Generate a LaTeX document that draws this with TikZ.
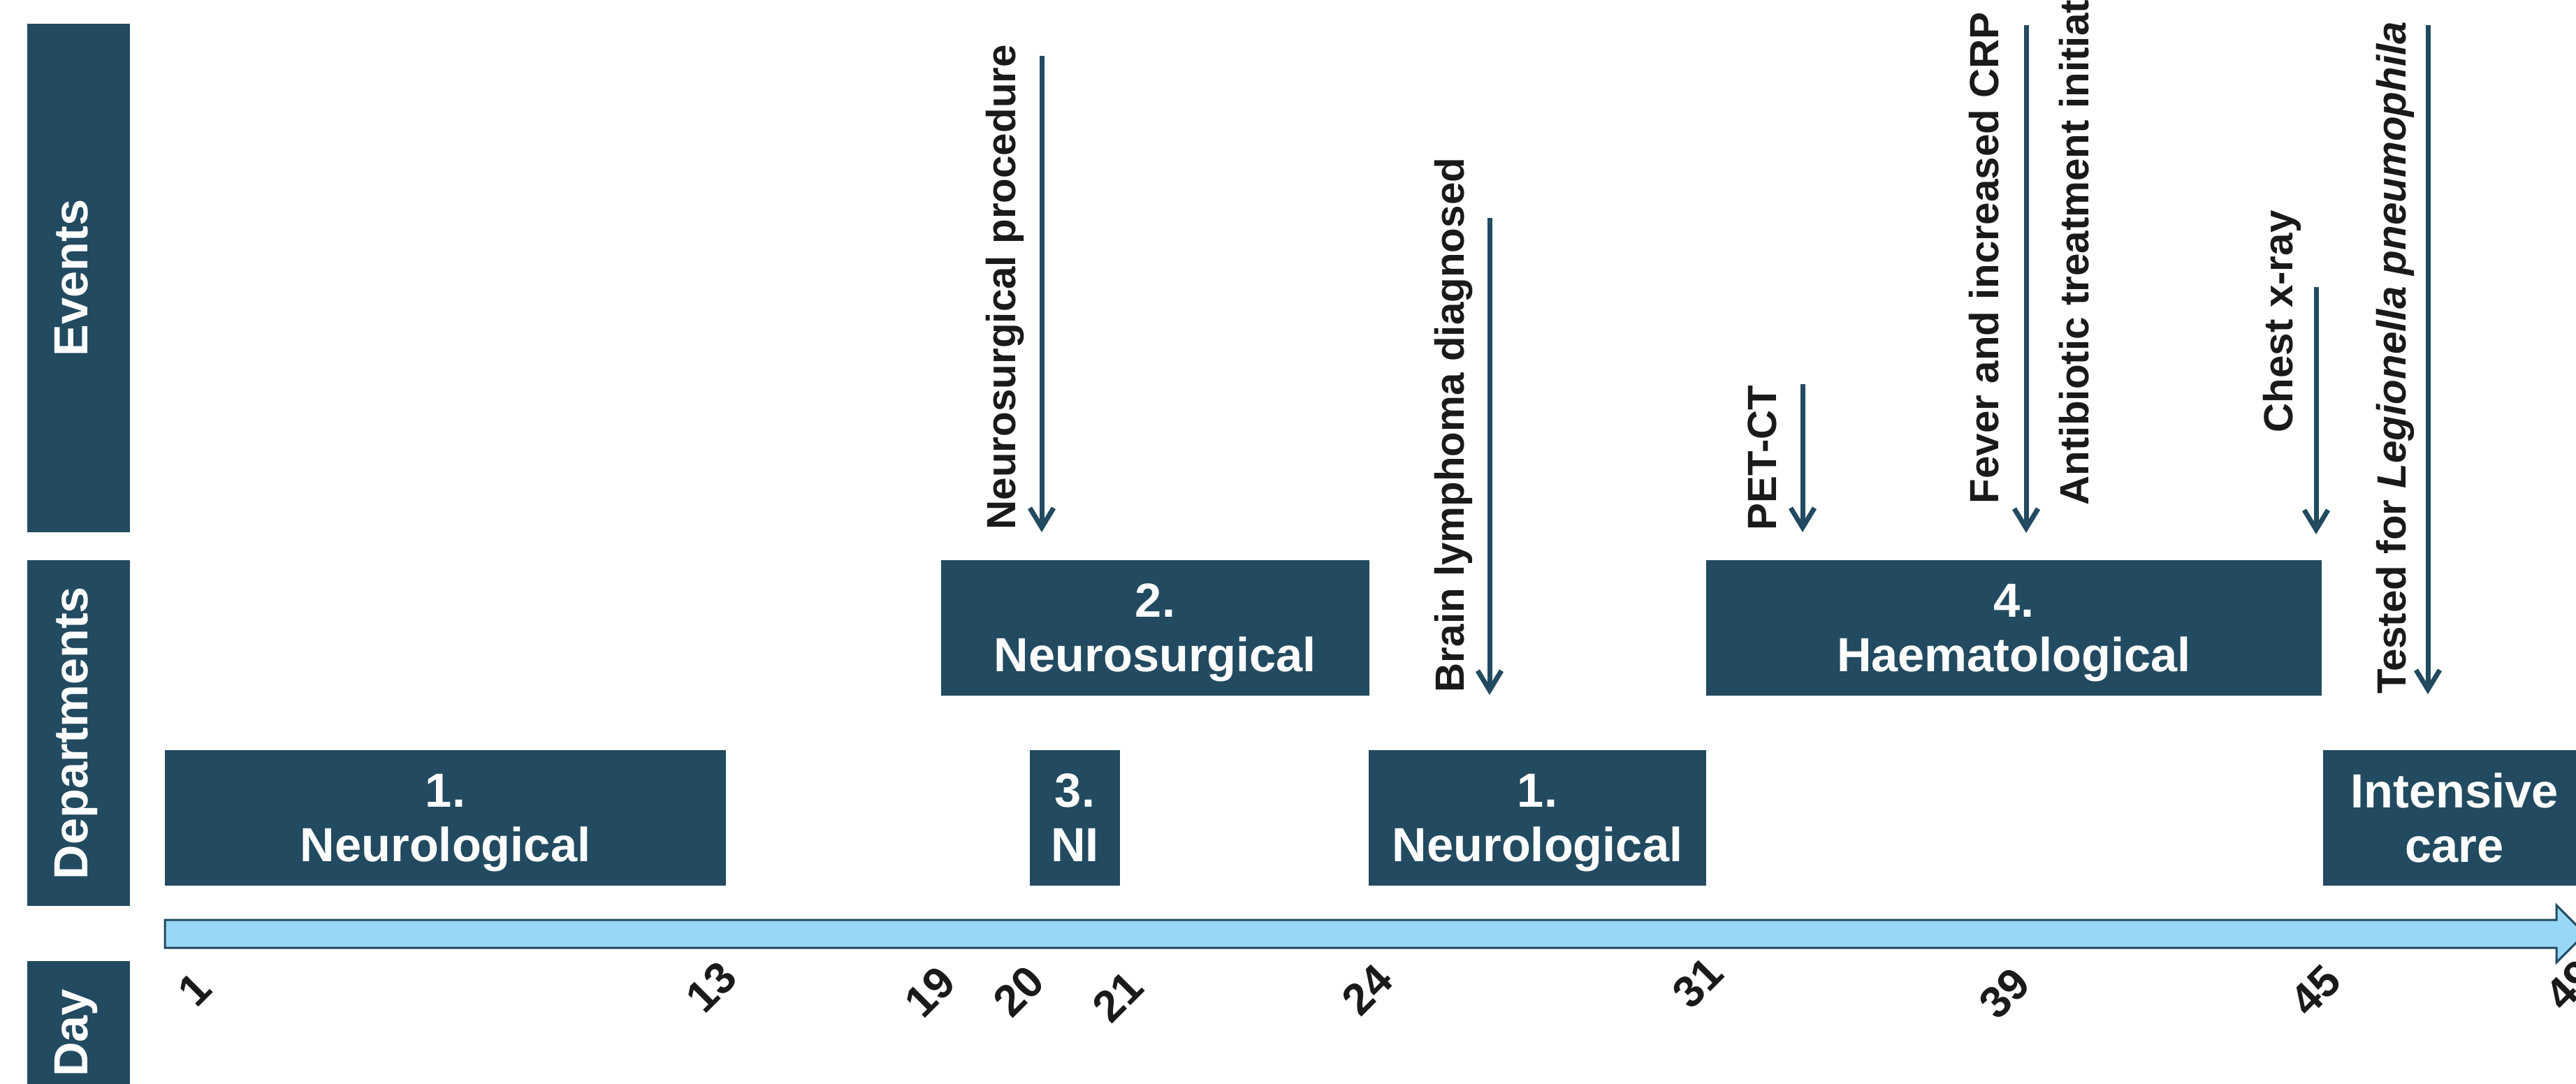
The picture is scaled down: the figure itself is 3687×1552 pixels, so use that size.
\documentclass[tikz,border=0pt]{standalone}
\usepackage{fontspec}
\setmainfont{Liberation Sans}
\usetikzlibrary{arrows.meta}
\definecolor{deptblue}{RGB}{34,74,96}
\definecolor{axisblue}{RGB}{152,214,245}
\definecolor{inkgrey}{RGB}{26,26,26}
\newcommand{\deptline}[1]{\raisebox{0pt}[\height][0pt]{#1}}

\begin{document}
\begin{tikzpicture}[
    x=0.01cm, y=-0.01cm,
    side/.style={rectangle, fill=deptblue, text=white, rotate=90, inner sep=0pt, minimum height=1.47cm, text height=0.72em, text depth=0pt, font=\fontsize{19.5}{22.2}\selectfont\bfseries},
    dept/.style={rectangle, fill=deptblue, text=white, align=center, inner sep=0pt, minimum height=1.94cm, font=\fontsize{19.5}{22.2}\selectfont\bfseries},
    event/.style={rotate=90, anchor=base west, inner sep=0pt, text=inkgrey, font=\fontsize{16.6}{20}\selectfont\bfseries},
    dayno/.style={rotate=45, inner sep=0pt, text=inkgrey, font=\fontsize{18}{20}\selectfont\bfseries},
    arrow/.style={-{Straight Barb[length=2.8mm, width=3.4mm]}, line width=0.7mm, deptblue},
    timeline/.style={fill=axisblue, draw=deptblue, line width=0.3mm}
]
    \useasboundingbox (0,0) rectangle (3687,1552);
    \clip (0,0) rectangle (3687,1552);

    \node[side, minimum width=7.28cm] (evbox) at (112.5,398) {Events};
    \node[side, minimum width=4.95cm] (depbox) at (112.5,1049.5) {Departments};
    \node[side, minimum width=2.06cm] (daybox) at (112.5,1479) {Day};

    \node[dept, minimum width=8.03cm] (neuroA) at (637.5,1171) {1.\\\deptline{Neurological}};
    \node[dept, minimum width=6.13cm] (neurosurg) at (1653.5,899) {2.\\\deptline{Neurosurgical}};
    \node[dept, minimum width=1.29cm] (ni) at (1538.5,1171) {3.\\\deptline{NI}};
    \node[dept, minimum width=4.83cm] (neuroB) at (2200.5,1171) {1.\\\deptline{Neurological}};
    \node[dept, minimum width=8.81cm] (haem) at (2882.5,899) {4.\\\deptline{Haematological}};
    \node[dept, minimum width=3.76cm] (icu) at (3513,1171) {Intensive\\\deptline{care}};

    \draw[timeline] (236,1317) -- (3659,1317) -- (3659,1296) -- (3700,1337)
        -- (3659,1378) -- (3659,1357) -- (236,1357) -- cycle;

    \node[event] (nsproc) at (1453,759) {Neurosurgical procedure};
    \node[event] (brain) at (2095,992) {Brain lymphoma diagnosed};
    \node[event] (petct) at (2542,760) {PET-CT};
    \node[event] (fever) at (2860,722) {Fever and increased CRP};
    \node[event] (antib) at (2989,724) {Antibiotic treatment initiated};
    \node[event] (chest) at (3281,620) {Chest x-ray};
    \node[event] (tested) at (3443,994) {Tested for \textit{Legionella pneumophila}};

    \coordinate (nsTop) at (1491,80);
    \coordinate (nsTip) at (1491,762);
    \coordinate (brainTop) at (2132,312);
    \coordinate (brainTip) at (2132,995);
    \coordinate (petTop) at (2580,550);
    \coordinate (petTip) at (2580,762);
    \coordinate (feverTop) at (2900,36);
    \coordinate (feverTip) at (2900,763);
    \coordinate (chestTop) at (3315,411);
    \coordinate (chestTip) at (3315,765);
    \coordinate (testTop) at (3475,36);
    \coordinate (testTip) at (3475,994);

    \draw[arrow] (nsTop) -- (nsTip);
    \draw[arrow] (brainTop) -- (brainTip);
    \draw[arrow] (petTop) -- (petTip);
    \draw[arrow] (feverTop) -- (feverTip);
    \draw[arrow] (chestTop) -- (chestTip);
    \draw[arrow] (testTop) -- (testTip);

    \node[dayno] (d1) at (279,1417) {1};
    \node[dayno] (d13) at (1018,1413) {13};
    \node[dayno] (d19) at (1331,1420) {19};
    \node[dayno] (d20) at (1458,1419) {20};
    \node[dayno] (d21) at (1600,1427) {21};
    \node[dayno] (d24) at (1957,1417) {24};
    \node[dayno] (d31) at (2430,1407) {31};
    \node[dayno] (d39) at (2869,1422) {39};
    \node[dayno] (d45) at (3314,1418) {45};
    \node[dayno] (d49) at (3679,1410) {49};
\end{tikzpicture}
\end{document}
